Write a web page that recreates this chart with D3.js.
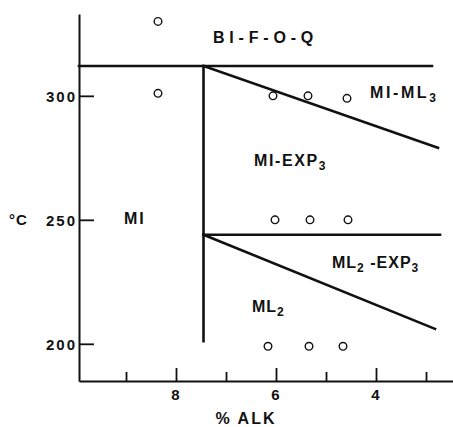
<!DOCTYPE html>
<html>
<head>
<meta charset="utf-8">
<script src="https://cdn.jsdelivr.net/npm/d3@7"></script>
<style>
  body { margin: 0; background: #fff; }
  svg { display: block; }
  text { font-family: "Liberation Sans", Arial, sans-serif; font-weight: bold; fill: #111; }
</style>
</head>
<body>
<svg width="453" height="427"></svg>
<script>
// опытные точки: % ALK и температура
const pointsAlk  = [8.36, 8.36, 6.06, 5.36, 4.58, 6.02, 5.32, 4.56, 6.16, 5.34, 4.66];
const pointsTemp = [330, 301, 300, 300, 299, 250, 250, 250, 199, 199, 199];

// границы полей устойчивости (отрезки: [alk1, t1, alk2, t2])
const boundaries = [
    [9.94, 312, 2.88, 312],   // верхняя горизонталь
    [7.45, 312, 7.45, 201],   // вертикаль
    [7.45, 312, 2.76, 279],   // верхний наклон
    [7.45, 244, 2.72, 244],   // нижняя горизонталь
    [7.45, 244, 2.82, 206]    // нижний наклон
];

// подписи полей: части текста (текст, индекс?), положение в единицах осей
const fieldNames = [
    { parts: [["BI-F-O-Q", false]], alk: 7.26, t: 321.4, ls: 4.8 },
    { parts: [["MI-ML", false], ["3", true]], alk: 4.12, t: 299.2, ls: 2.6 },
    { parts: [["MI-EXP", false], ["3", true]], alk: 6.44, t: 271.8, ls: 1.6 },
    { parts: [["MI", false]], alk: 9.04, t: 248.4, ls: 2 },
    { parts: [["ML", false], ["2", true], [" -EXP", false], ["3", true]], alk: 4.88, t: 230.6, ls: 1 },
    { parts: [["ML", false], ["2", true]], alk: 6.48, t: 212.9, ls: 1 }
];

const majorTicksX = [8, 6, 4];
const minorTicksX = [9, 7, 5, 3];
const ticksY = [200, 250, 300];

const svg = d3.select("svg");

const scX = d3.scaleLinear().domain([9.94, 2.44]).range([79, 454]);
const scY = d3.scaleLinear().domain([185, 333]).range([381, 14]);

// ось Y - засечки внутрь
const gY = svg.append("g")
    .attr("transform", "translate(79,0)")
    .call(d3.axisLeft(scY).tickValues(ticksY).tickSizeInner(-15).tickSizeOuter(0).tickPadding(2));

// ось X - большие засечки с подписями
const gX = svg.append("g")
    .attr("transform", "translate(0,381)")
    .call(d3.axisBottom(scX).tickValues(majorTicksX).tickSizeInner(-13).tickSizeOuter(0).tickPadding(8));

// малые засечки без подписей
svg.append("g")
    .attr("transform", "translate(0,381)")
    .call(d3.axisBottom(scX).tickValues(minorTicksX).tickSizeInner(-9).tickSizeOuter(0).tickFormat(""))
    .select(".domain").remove();

svg.selectAll(".domain").attr("stroke", "#111").attr("stroke-width", 2);
svg.selectAll(".tick line").attr("stroke", "#111").attr("stroke-width", 1.8);
svg.selectAll(".tick text")
    .style("font-family", "Liberation Sans, Arial, sans-serif")
    .style("font-weight", "bold")
    .style("font-size", "15px")
    .style("letter-spacing", "2px")
    .attr("fill", "#111");
gY.selectAll(".tick text").attr("dy", "0.36em");

// границы
svg.append("g").selectAll("line")
    .data(boundaries)
    .enter()
    .append("line")
    .attr("x1", d => scX(d[0]))
    .attr("y1", d => scY(d[1]))
    .attr("x2", d => scX(d[2]))
    .attr("y2", d => scY(d[3]))
    .attr("stroke", "#111")
    .attr("stroke-width", 2.6)
    .attr("stroke-linecap", "square");

// точки
svg.append("g").selectAll("circle")
    .data(pointsAlk)
    .enter()
    .append("circle")
    .attr("cx", d => scX(d))
    .attr("cy", (d, i) => scY(pointsTemp[i]))
    .attr("r", 3.8)
    .attr("fill", "none")
    .attr("stroke", "#111")
    .attr("stroke-width", 1.4);

// подписи полей
const labels = svg.append("g").selectAll("text")
    .data(fieldNames)
    .enter()
    .append("text")
    .attr("x", d => scX(d.alk))
    .attr("y", d => scY(d.t))
    .style("font-size", "16px")
    .style("letter-spacing", d => d.ls + "px");

labels.each(function(d) {
    const el = d3.select(this);
    d.parts.forEach(p => {
        el.append("tspan")
            .attr("baseline-shift", p[1] ? "-4" : null)
            .style("font-size", p[1] ? "12px" : null)
            .text(p[0]);
    });
});

// подписи осей
svg.append("text")
    .attr("x", 9).attr("y", 225)
    .style("font-size", "15px")
    .style("letter-spacing", "1px")
    .text("°C");

svg.append("text")
    .attr("x", 246).attr("y", 424)
    .attr("text-anchor", "middle")
    .style("font-size", "16px")
    .style("letter-spacing", "2px")
    .text("% ALK");
</script>
</body>
</html>
